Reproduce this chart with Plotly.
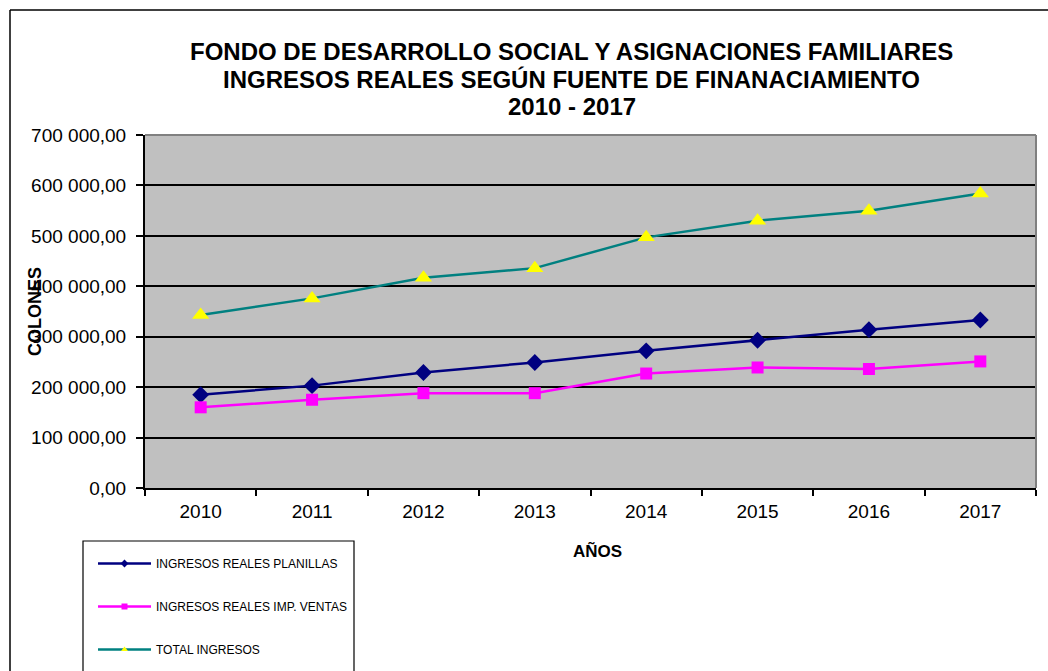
import plotly.graph_objects as go

# ---- data ----
years = ["2010", "2011", "2012", "2013", "2014", "2015", "2016", "2017"]
planillas = [185000, 203000, 229000, 249000, 272000, 293000, 314000, 333000]
imp_ventas = [160000, 175000, 188000, 188000, 227000, 239000, 236000, 251000]
total_ingresos = [343000, 376000, 417000, 436000, 497000, 530000, 550000, 584000]

series_names = ["INGRESOS REALES PLANILLAS", "INGRESOS REALES IMP. VENTAS", "TOTAL INGRESOS"]
title_lines = [
    "FONDO DE DESARROLLO SOCIAL Y ASIGNACIONES FAMILIARES",
    "INGRESOS REALES SEGÚN FUENTE DE FINANACIAMIENTO",
    "2010 - 2017",
]
y_ticks = [0, 100000, 200000, 300000, 400000, 500000, 600000, 700000]

# ---- layout geometry (pixels) ----
W, H = 1048, 671
L, R, T, B = 145, 1036, 135, 488
PW, PH = R - L, B - T


def px(x):
    return (x - L) / PW


def py(y):
    return (B - y) / PH


FONT = "Liberation Sans, Arial, sans-serif"

fig = go.Figure()

styles = [
    dict(line=dict(color="#000080", width=2.5), marker=dict(symbol="diamond", size=13, color="#000080")),
    dict(line=dict(color="#FF00FF", width=2.5), marker=dict(symbol="square", size=12, color="#FF00FF")),
    dict(line=dict(color="#008080", width=2.5), marker=dict(symbol="triangle-up", size=15, color="#FFFF00")),
]
legend_markers = [
    dict(symbol="diamond", size=6, color="#000080"),
    dict(symbol="square", size=6, color="#FF00FF"),
    dict(symbol="triangle-up", size=6, color="#FFFF00"),
]

for name, vals, st in zip(series_names, [planillas, imp_ventas, total_ingresos], styles):
    fig.add_trace(go.Scatter(x=years, y=vals, mode="lines+markers", name=name,
                             line=st["line"], marker=st["marker"], showlegend=False,
                             hoverinfo="x+y"))

for i, (name, st, lm) in enumerate(zip(series_names, styles, legend_markers)):
    fig.add_trace(go.Scatter(x=[None], y=[None], mode="lines+markers", name=name,
                             line=st["line"], marker=lm, showlegend=True,
                             legendgroup=f"g{i}"))

shapes = [
    # outer chart border (left and top visible)
    dict(type="line", xref="paper", yref="paper", x0=px(10), x1=px(10), y0=py(700), y1=py(10),
         line=dict(color="#000000", width=1.5)),
    dict(type="line", xref="paper", yref="paper", x0=px(10), x1=px(1060), y0=py(10), y1=py(10),
         line=dict(color="#000000", width=1.5)),
    # plot area top/right border
    dict(type="line", xref="paper", yref="paper", x0=0, x1=1, y0=1, y1=1,
         line=dict(color="#808080", width=2)),
    dict(type="line", xref="paper", yref="paper", x0=1, x1=1, y0=0, y1=1,
         line=dict(color="#808080", width=2)),
    # legend box
    dict(type="rect", xref="paper", yref="paper", x0=px(83), x1=px(354), y0=py(700), y1=py(541),
         line=dict(color="#000000", width=1.2), fillcolor="rgba(0,0,0,0)"),
]

annotations = []
for txt, yc in zip(title_lines, [51.5, 79.5, 106]):
    annotations.append(dict(text=f"<b>{txt}</b>", xref="paper", yref="paper", x=px(571.5), y=py(yc),
                            xanchor="center", yanchor="middle", showarrow=False,
                            font=dict(family=FONT, size=24, color="#000000")))
annotations.append(dict(text="<b>COLONES</b>", xref="paper", yref="paper", x=px(35), y=py(312),
                        xanchor="center", yanchor="middle", textangle=-90, showarrow=False,
                        font=dict(family=FONT, size=18, color="#000000")))
annotations.append(dict(text="<b>AÑOS</b>", xref="paper", yref="paper", x=px(597), y=py(551),
                        xanchor="center", yanchor="middle", showarrow=False,
                        font=dict(family=FONT, size=17, color="#000000")))

fig.update_layout(
    width=W, height=H,
    margin=dict(l=L, r=W - R, t=T, b=H - B, pad=0, autoexpand=False),
    paper_bgcolor="#FFFFFF",
    plot_bgcolor="#C0C0C0",
    separators=", ",
    font=dict(family=FONT, size=19, color="#000000"),
    shapes=shapes,
    annotations=annotations,
    showlegend=True,
    legend=dict(x=px(93), y=py(549), xanchor="left", yanchor="top",
                bgcolor="rgba(0,0,0,0)", borderwidth=0,
                font=dict(family=FONT, size=12, color="#000000"),
                tracegroupgap=24, itemwidth=53),
    hovermode="closest",
)

fig.update_xaxes(
    type="category", range=[-0.5, 7.5], tickson="boundaries",
    ticks="outside", ticklen=6, tickwidth=1.5, tickcolor="#000000",
    showline=True, linecolor="#000000", linewidth=2,
    showgrid=False, zeroline=False,
    tickfont=dict(family=FONT, size=19, color="#000000"),
    ticklabelstandoff=5, automargin=False,
)
fig.update_yaxes(
    range=[0, 700000], tickvals=y_ticks, tickformat=",.2f",
    ticks="outside", ticklen=7, tickwidth=1.5, tickcolor="#000000",
    showline=True, linecolor="#000000", linewidth=2,
    showgrid=True, gridcolor="#000000", gridwidth=1.5, zeroline=False,
    tickfont=dict(family=FONT, size=19, color="#000000"),
    ticklabelstandoff=6, automargin=False,
)

fig.write_html("out.html")
